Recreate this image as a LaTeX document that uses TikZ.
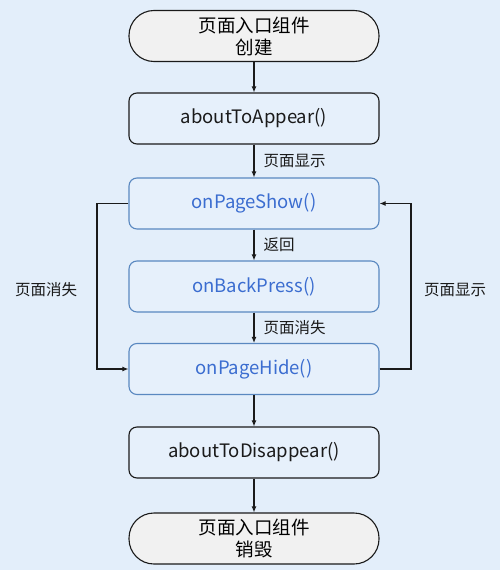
\documentclass[tikz,border=0pt]{standalone}
\usepackage{fontspec}
\setmainfont{Noto Sans CJK SC}
\usetikzlibrary{arrows.meta}
\definecolor{bg}{HTML}{E3EEFA}
\definecolor{boxfill}{HTML}{E6F0FB}
\definecolor{pillfill}{HTML}{F1F1F1}
\definecolor{bluedraw}{HTML}{5A88C0}
\definecolor{bluetext}{HTML}{3B6DD0}
\definecolor{ink}{HTML}{1A1A1A}
\begin{document}
\begin{tikzpicture}[x=1pt,y=-1pt,
  base/.style={minimum width=250pt,minimum height=51pt,inner sep=0pt,line width=1.1pt,align=center,font=\fontsize{18.5}{22}\selectfont},
  pill/.style={base,draw=ink,fill=pillfill,rounded corners=25pt,font=\fontsize{18.5}{22}\selectfont},
  blackbox/.style={base,draw=ink,fill=boxfill,rounded corners=8pt,text=ink},
  bluebox/.style={base,draw=bluedraw,fill=boxfill,rounded corners=8pt,text=bluetext},
  arr/.style={draw=ink,line width=1.1pt,-{Latex[length=6pt,width=5pt]}},
  lbl/.style={font=\fontsize{15.5}{18}\selectfont,text=ink,inner sep=0pt}]
\fill[bg] (0,0) rectangle (500,570);
\useasboundingbox (0,0) rectangle (500,570);
\node[pill] (create) at (254,36) {页面入口组件\\创建};
\node[blackbox] (appear) at (254,118.5) {aboutToAppear()};
\node[bluebox] (show) at (254,203.5) {onPageShow()};
\node[bluebox] (back) at (254,286.5) {onBackPress()};
\node[bluebox] (hide) at (254,369) {onPageHide()};
\node[blackbox] (disappear) at (254,452.5) {aboutToDisappear()};
\node[pill] (destroy) at (254,538.5) {页面入口组件\\销毁};
\draw[arr] (create) -- (appear);
\draw[arr] (appear) -- node[lbl,right=9pt] {页面显示} (show);
\draw[arr] (show) -- node[lbl,right=9pt] {返回} (back);
\draw[arr] (back) -- node[lbl,right=9pt] {页面消失} (hide);
\draw[arr] (hide) -- (disappear);
\draw[arr] (disappear) -- (destroy);
\coordinate (lt) at (97,203.5);
\coordinate (lb) at (97,369);
\coordinate (rt) at (411,203.5);
\coordinate (rb) at (411,369);
\draw[arr] (show.west) -- (lt) -- (lb) -- (hide.west);
\draw[arr] (hide.east) -- (rb) -- (rt) -- (show.east);
\node[lbl] (lleft) at (46,290) {页面消失};
\node[lbl] (lright) at (455,290) {页面显示};
\end{tikzpicture}
\end{document}
